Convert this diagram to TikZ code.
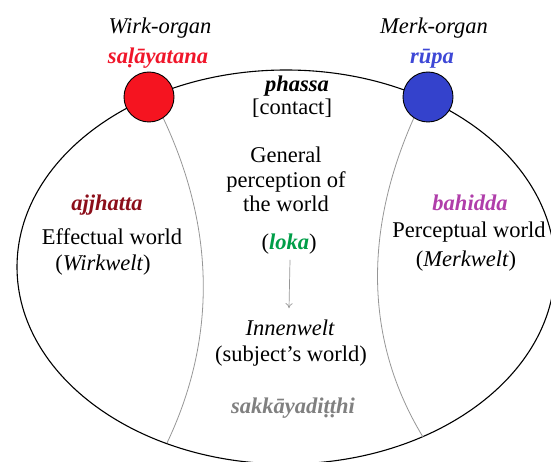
\documentclass[tikz,border=0pt]{standalone}
\usepackage{fontspec}
\setmainfont{Liberation Serif}
\usetikzlibrary{shapes.geometric,arrows.meta}

\definecolor{wirkfill}{RGB}{245,20,32}
\definecolor{merkfill}{RGB}{52,66,204}
\definecolor{wirktext}{RGB}{240,22,42}
\definecolor{merktext}{RGB}{62,72,214}
\definecolor{innerred}{RGB}{140,14,26}
\definecolor{outermag}{RGB}{176,62,170}
\definecolor{lokagreen}{RGB}{0,158,72}
\definecolor{viewgray}{RGB}{128,128,128}
\definecolor{bordergray}{RGB}{150,150,150}

\newcommand{\labelsize}{\fontsize{22.5}{26}\selectfont}

\tikzset{
  world/.style={draw=black, line width=1.1pt, ellipse, inner sep=0pt,
    minimum width=538pt, minimum height=394pt},
  organ/.style={circle, draw=black, line width=0.9pt, minimum size=50pt, inner sep=0pt},
  border/.style={draw=bordergray, line width=0.8pt},
  lbl/.style={anchor=base, inner sep=2pt, font=\labelsize},
  ilbl/.style={lbl, font=\labelsize\itshape},
  term/.style={lbl, font=\labelsize\bfseries\itshape},
  flow/.style={draw=bordergray, line width=0.7pt, -{To[length=5pt,width=7pt]}}
}

\begin{document}
\begin{tikzpicture}[x=1pt, y=-1pt]
\useasboundingbox (0,0) rectangle (551,462);

% outer world and the two organs on its rim
\node[world] (world) at (286,267) {};
\node[organ, fill=wirkfill] (wirk) at (149,97) {};
\node[organ, fill=merkfill] (merk) at (428,97) {};

% feet of the boundary arcs on the rim
\coordinate (lfoot) at (167,443);
\coordinate (rfoot) at (423,437);

% boundaries of the subject's world
\draw[border] (wirk.-56) .. controls (216,230) and (216,340) .. (lfoot);
\draw[border] (merk.-124) .. controls (364,230) and (364,340) .. (rfoot);

% organ captions
\node[ilbl] (wirkname) at (160,34) {Wirk-organ};
\node[term, text=wirktext] (salay) at (158,64) {saḷāyatana};
\node[ilbl] (merkname) at (434,34) {Merk-organ};
\node[term, text=merktext] (rupa) at (432,64) {rūpa};

% contact
\node[term] (phassa) at (297,92) {phassa};
\node[lbl] (contact) at (292,115) {[contact]};

% effectual world
\node[term, text=innerred] (ajjh) at (107,211) {ajjhatta};
\node[lbl] (effect) at (112,245) {Effectual world};
\node[lbl] (wirkwelt) at (103,270) {(\textit{Wirkwelt})};

% perceptual world
\node[term, text=outermag] (bahi) at (470,211) {bahidda};
\node[lbl] (percept) at (469,238) {Perceptual world};
\node[lbl] (merkwelt) at (466,266) {(\textit{Merkwelt})};

% general perception and the inner world
\node[lbl] (gen1) at (286,163) {General};
\node[lbl] (gen2) at (286,188) {perception of};
\node[lbl] (gen3) at (286,212) {the world};
\node[lbl] (loka) at (289,250) {(\textbf{\textit{\textcolor{lokagreen}{loka}}})};
\node[ilbl] (innen) at (290,335) {Innenwelt};
\node[lbl] (subject) at (291,361) {(subject’s world)};
\node[term, text=viewgray] (sakkaya) at (293,413) {sakkāyadiṭṭhi};

\draw[flow] ([shift={(1,3)}]loka.south) -- ([shift={(0,-9)}]loka.south |- innen.north);
\end{tikzpicture}
\end{document}
